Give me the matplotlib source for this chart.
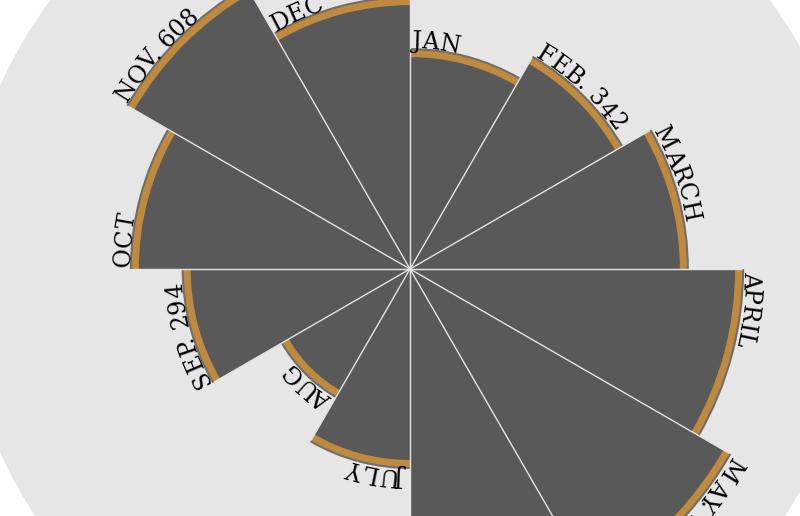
import numpy as np
import matplotlib.pyplot as plt
from matplotlib import font_manager
from matplotlib.ft2font import FT2Font

# data (wedge radius ~ sqrt(value))
months = ['JAN', 'FEB', 'MARCH', 'APRIL', 'MAY', 'JUNE',
          'JULY', 'AUG', 'SEP', 'OCT', 'NOV', 'DEC']
values = [275, 342, 440, 633, 781, 700, 225, 124, 294, 444, 608, 421]
show_value = [False, True, False, False, True, False,
              False, False, True, False, True, False]

W, H, DPI = 800, 516, 100
CX, CY = 410, 269        # centre of the rose, px from top-left
R_PX = 449               # radius of the light disc
PX_PER_UNIT = 13.2       # px per sqrt(value)

# a narrow serif if there is one, else plain DejaVu Serif a bit smaller
names = {f.name for f in font_manager.fontManager.ttflist}
if 'DejaVu Serif Condensed' in names:
    FAMILY, FS = 'DejaVu Serif Condensed', 19
else:
    FAMILY, FS = 'DejaVu Serif', 17

fig = plt.figure(figsize=(W / DPI, H / DPI), dpi=DPI, facecolor='white')
ax = fig.add_axes([(CX - R_PX) / W, (H - CY - R_PX) / H, 2 * R_PX / W, 2 * R_PX / H],
                  projection='polar')
ax.set_theta_zero_location('N')
ax.set_theta_direction(-1)
ax.set_ylim(0, R_PX / PX_PER_UNIT)
ax.set_facecolor('#e6e6e6')
ax.grid(False)
ax.set_xticks([])
ax.set_yticks([])
ax.spines['polar'].set_visible(False)

theta = np.deg2rad(np.arange(len(months)) * 30)
width = np.deg2rad(30)
r = np.sqrt(values)
band = 7 / PX_PER_UNIT
shadow = 2 / PX_PER_UNIT

ax.bar(theta, r + shadow, width=width, align='edge', color='#6e6e6e', linewidth=0, zorder=1)
ax.bar(theta, r, width=width, align='edge', color='#595959', linewidth=0, zorder=2)
ax.bar(theta, band, width=width, bottom=r - band, align='edge', color='#bf8a3e',
       linewidth=0, zorder=3)
ax.vlines(theta, 0, np.maximum(r, np.roll(r, 1)), colors='#e4e4e4', linewidth=1, zorder=4)

# curved labels, one glyph at a time
font_path = font_manager.findfont(font_manager.FontProperties(family=FAMILY))
ft = FT2Font(font_path)
ft.set_size(FS, DPI)
try:
    from matplotlib.ft2font import Kerning
    KERN = Kerning.DEFAULT
except ImportError:
    from matplotlib.ft2font import KERNING_DEFAULT as KERN


def advance(ch):
    g = ft.load_char(ord(ch))
    return g.linearHoriAdvance / 65536


def kern(a, b):
    try:
        return ft.get_kerning(ft.get_char_index(ord(a)), ft.get_char_index(ord(b)), KERN) / 64
    except Exception:
        return 0.0


for i, m in enumerate(months):
    label = f'{m}. {values[i]}' if show_value[i] else m
    r_px = r[i] * PX_PER_UNIT + 2
    pos = 2.0
    prev = None
    for ch in label:
        if prev is not None:
            pos += kern(prev, ch)
        a = advance(ch)
        ang = theta[i] + (pos + a / 2) / r_px
        if ch != ' ':
            ax.text(ang, r_px / PX_PER_UNIT, ch, rotation=-np.degrees(ang),
                    rotation_mode='anchor', ha='center', va='baseline',
                    fontsize=FS, family=FAMILY, color='black', zorder=5)
        pos += a
        prev = ch

fig.savefig('out.png', dpi=DPI, facecolor='white')
